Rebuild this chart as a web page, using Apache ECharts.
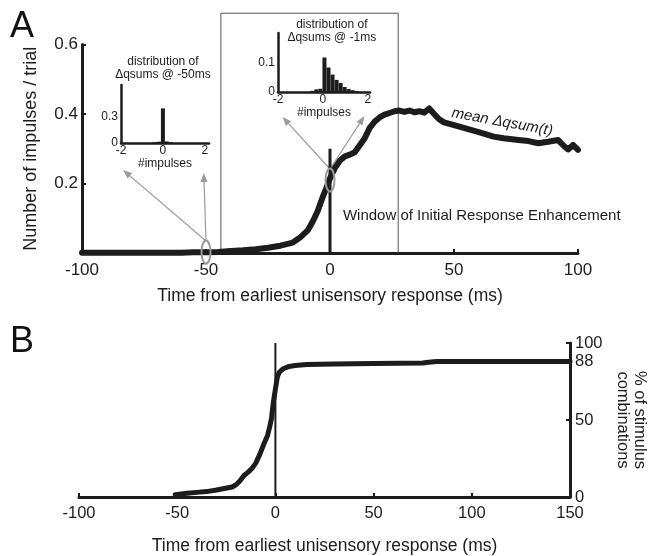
<!DOCTYPE html>
<html>
<head>
<meta charset="utf-8">
<script src="https://cdn.jsdelivr.net/npm/echarts@6/dist/echarts.min.js"></script>
<style>
  html, body { margin: 0; background: #fff; }
  #chart { width: 656px; height: 556px; }
</style>
</head>
<body>
<div id="chart"></div>
<script>
// panel A: mean delta qsum over time
const meanTimes = [-100, -90, -80, -70, -60, -55, -50, -45, -40, -35, -30, -25, -20, -15, -12, -9, -7, -5, -3, -1, 0, 2, 4, 6, 8, 10, 12, 14, 16, 18, 20, 22, 24, 26, 28, 30, 32, 34, 36, 38, 40, 42, 44, 46, 50, 55, 60, 66, 70, 76, 80, 84, 88, 92, 94, 96, 98, 100];
const meanValues = [0.001, 0.001, 0.001, 0.001, 0.001, 0.002, 0.002, 0.003, 0.006, 0.008, 0.011, 0.015, 0.021, 0.03, 0.045, 0.065, 0.09, 0.12, 0.16, 0.195, 0.215, 0.245, 0.266, 0.278, 0.283, 0.29, 0.31, 0.33, 0.36, 0.378, 0.39, 0.398, 0.403, 0.408, 0.41, 0.406, 0.41, 0.405, 0.408, 0.404, 0.416, 0.4, 0.385, 0.376, 0.368, 0.358, 0.348, 0.335, 0.33, 0.325, 0.322, 0.316, 0.32, 0.325, 0.31, 0.298, 0.311, 0.297];

// panel B: cumulative % of stimulus combinations
const cdfTimes = [-51, -45, -40, -35, -30, -26, -22, -20, -18, -16, -14, -12, -10, -8, -6, -4, -3, -2, -1, 0, 1, 2, 4, 7, 10, 16, 30, 50, 75, 78, 82, 150];
const cdfValues = [1.5, 2.5, 3, 3.5, 4.5, 5.5, 6.5, 8, 10.5, 14, 16, 18.5, 22, 27.5, 34, 40, 45, 51, 62, 70, 78, 81, 83.3, 84.8, 85.4, 86, 86.3, 86.7, 87, 87.5, 88, 88];

// inset histograms
const earlyBins = [-0.38, -0.19, 0, 0.19, 0.38];
const earlyCounts = [0.008, 0.015, 0.4, 0.018, 0.008];
const lateBins = [-0.47, -0.29, -0.11, 0.07, 0.25, 0.43, 0.61, 0.79, 0.97, 1.15, 1.33, 1.51];
const lateCounts = [0.004, 0.009, 0.011, 0.117, 0.083, 0.059, 0.041, 0.031, 0.017, 0.01, 0.006, 0.003];

// tick labels
const ticksA = [0.2, 0.4, 0.6];
const ticksEarlyY = [0, 0.3];
const ticksLateY = [0, 0.1];
const ticksInsetX = [-2, 0, 2];
const ticksB = [0, 50, 88, 100];
const ticksBMarks = [0, 50, 100];

// window of initial response enhancement
const windowStart = -44;
const windowEnd = 27.5;
const windowTop = 0.69;

const FONT = "'Liberation Sans', Arial, sans-serif";
const INK = '#1c1c1c';
const GREY = '#9a9a9a';

const zip = (xs, ys) => xs.map((x, i) => [x, ys[i]]);

const axisBase = (lw, fs) => ({
  axisLine: {show: true, onZero: false, lineStyle: {color: INK, width: lw}},
  axisTick: {show: true, inside: true, length: 4, lineStyle: {color: INK, width: 2}},
  splitLine: {show: false},
  axisLabel: {color: INK, fontFamily: FONT, fontSize: fs}
});

const chart = echarts.init(document.getElementById('chart'));

chart.setOption({
  animation: false,
  backgroundColor: '#fff',
  grid: [
    {left: 82, top: 44.5, width: 496, height: 208.5},
    {left: 121, top: 85, width: 88, height: 58},
    {left: 278, top: 33, width: 92, height: 59},
    {left: 79, top: 343, width: 498, height: 158}
  ],
  xAxis: [
    Object.assign(axisBase(3, 17), {
      gridIndex: 0, type: 'value', min: -100, max: 100, interval: 50,
      axisLabel: {color: INK, fontFamily: FONT, fontSize: 17, margin: 9},
      name: 'Time from earliest unisensory response (ms)', nameLocation: 'middle', nameGap: 34,
      nameTextStyle: {color: INK, fontFamily: FONT, fontSize: 17.5}
    }),
    Object.assign(axisBase(2.5, 12), {
      gridIndex: 1, type: 'value', min: -2, max: 2.2, interval: 2,
      axisTick: {show: false},
      axisLabel: {color: INK, fontFamily: FONT, fontSize: 12, margin: 2, customValues: ticksInsetX},
      name: '#impulses', nameLocation: 'middle', nameGap: 14,
      nameTextStyle: {color: INK, fontFamily: FONT, fontSize: 12}
    }),
    Object.assign(axisBase(2.5, 12), {
      gridIndex: 2, type: 'value', min: -2, max: 2.1, interval: 2,
      axisTick: {show: false},
      axisLabel: {color: INK, fontFamily: FONT, fontSize: 12, margin: 2, customValues: ticksInsetX},
      name: '#impulses', nameLocation: 'middle', nameGap: 14,
      nameTextStyle: {color: INK, fontFamily: FONT, fontSize: 12}
    }),
    Object.assign(axisBase(3, 16.5), {
      gridIndex: 3, type: 'value', min: -100, max: 150, interval: 50,
      axisLabel: {color: INK, fontFamily: FONT, fontSize: 16.5, margin: 8},
      name: 'Time from earliest unisensory response (ms)', nameLocation: 'middle', nameGap: 40,
      nameTextStyle: {color: INK, fontFamily: FONT, fontSize: 17.5}
    })
  ],
  yAxis: [
    Object.assign(axisBase(3, 17), {
      gridIndex: 0, type: 'value', min: 0, max: 0.6, interval: 0.2,
      axisLabel: {color: INK, fontFamily: FONT, fontSize: 17, margin: 4, customValues: ticksA},
      axisTick: {show: true, inside: true, length: 4, lineStyle: {color: INK, width: 2}, customValues: ticksA},
      name: 'Number of impulses / trial', nameLocation: 'middle', nameGap: 42,
      nameTextStyle: {color: INK, fontFamily: FONT, fontSize: 18}
    }),
    Object.assign(axisBase(2.5, 12), {
      gridIndex: 1, type: 'value', min: 0, max: 0.67, interval: 0.3,
      axisTick: {show: false},
      axisLabel: {color: INK, fontFamily: FONT, fontSize: 12, margin: 3, customValues: ticksEarlyY}
    }),
    Object.assign(axisBase(2.5, 12), {
      gridIndex: 2, type: 'value', min: 0, max: 0.2, interval: 0.1,
      axisTick: {show: false},
      axisLabel: {color: INK, fontFamily: FONT, fontSize: 12, margin: 3, customValues: ticksLateY}
    }),
    Object.assign(axisBase(3, 16.5), {
      gridIndex: 3, type: 'value', min: 0, max: 100, position: 'right',
      axisLabel: {color: INK, fontFamily: FONT, fontSize: 16.5, margin: 5, customValues: ticksB},
      axisTick: {show: true, inside: true, length: 4, lineStyle: {color: INK, width: 2}, customValues: ticksBMarks},
      name: '% of stimulus\ncombinations', nameLocation: 'middle', nameGap: 44, nameRotate: -90,
      nameTextStyle: {color: INK, fontFamily: FONT, fontSize: 16.5, lineHeight: 17}
    })
  ],
  series: [
    {
      type: 'line', xAxisIndex: 0, yAxisIndex: 0, clip: false, silent: true, symbol: 'none',
      lineStyle: {color: '#555', width: 1},
      data: [[windowStart, 0], [windowStart, windowTop], [windowEnd, windowTop], [windowEnd, 0]]
    },
    {
      type: 'line', xAxisIndex: 0, yAxisIndex: 0, symbol: 'none',
      lineStyle: {color: INK, width: 3},
      data: [[0, 0], [0, 0.3]]
    },
    {
      type: 'line', xAxisIndex: 0, yAxisIndex: 0, symbol: 'none', z: 5,
      lineStyle: {color: INK, width: 6, join: 'round', cap: 'round'},
      data: zip(meanTimes, meanValues)
    },
    {
      type: 'bar', xAxisIndex: 1, yAxisIndex: 1, barWidth: 4,
      itemStyle: {color: INK},
      data: zip(earlyBins, earlyCounts)
    },
    {
      type: 'bar', xAxisIndex: 2, yAxisIndex: 2, barWidth: 4,
      itemStyle: {color: INK},
      data: zip(lateBins, lateCounts)
    },
    {
      type: 'line', xAxisIndex: 3, yAxisIndex: 3, symbol: 'none',
      lineStyle: {color: INK, width: 2},
      data: [[0, 0], [0, 100]]
    },
    {
      type: 'line', xAxisIndex: 3, yAxisIndex: 3, symbol: 'none', z: 5,
      lineStyle: {color: INK, width: 5, join: 'round', cap: 'round'},
      data: zip(cdfTimes, cdfValues)
    }
  ]
});

// annotations placed from data coordinates
const px = (grid, pt) => chart.convertToPixel({gridIndex: grid}, pt);

const arrow = (from, to) => {
  const dx = to[0] - from[0], dy = to[1] - from[1];
  const len = Math.sqrt(dx * dx + dy * dy);
  const ux = dx / len, uy = dy / len;
  const hl = 9, hw = 3.5;
  const bx = to[0] - ux * hl, by = to[1] - uy * hl;
  return [
    {type: 'line', shape: {x1: from[0], y1: from[1], x2: bx, y2: by}, style: {stroke: GREY, lineWidth: 1.2}},
    {type: 'polygon', shape: {points: [to, [bx - uy * hw, by + ux * hw], [bx + uy * hw, by - ux * hw]]}, style: {fill: GREY}}
  ];
};

const text = (x, y, str, size, extra) => ({
  type: 'text', x: x, y: y,
  style: Object.assign({text: str, fill: INK, fontFamily: FONT, fontSize: size, align: 'center', verticalAlign: 'middle'}, extra || {})
});

const e1 = px(0, [-50, 0.003]);
const e2 = px(0, [0, 0.21]);
const in1 = px(1, [0, 0]);
const in2 = px(2, [0, 0]);

let graphics = [
  text(22, 27, 'A', 36, {fill: '#111'}),
  text(22, 342, 'B', 36, {fill: '#111'}),
  {type: 'ellipse', shape: {cx: e1[0], cy: e1[1], rx: 4.5, ry: 11.5}, style: {fill: 'none', stroke: GREY, lineWidth: 2}, z: 10},
  {type: 'ellipse', shape: {cx: e2[0], cy: e2[1], rx: 4.5, ry: 11.5}, style: {fill: 'none', stroke: GREY, lineWidth: 2}, z: 10}
];
graphics = graphics
  .concat(arrow([e1[0], e1[1] - 11], [px(1, [-1.9, 0])[0], in1[1] + 27]))
  .concat(arrow([e1[0], e1[1] - 11], [px(1, [1.95, 0])[0], in1[1] + 30]))
  .concat(arrow([e2[0], e2[1] - 11], [px(2, [-1.8, 0])[0], in2[1] + 25]))
  .concat(arrow([e2[0], e2[1] - 11], [px(2, [1.85, 0])[0], in2[1] + 24]))
  .concat([
    text(in1[0], 62, 'distribution of', 12),
    text(in1[0], 75, 'Δqsums @ -50ms', 12),
    text(px(2, [0.4, 0])[0], 25, 'distribution of', 12),
    text(px(2, [0.4, 0])[0], 38, 'Δqsums @ -1ms', 12)
  ]);

const meanLabel = px(0, [69.4, 0.377]);
const meanText = text(meanLabel[0], meanLabel[1], 'mean Δqsum(t)', 15, {fontStyle: 'italic'});
meanText.rotation = -0.18;
graphics.push(meanText);
const winLabel = px(0, [5.2, 0.106]);
graphics.push(text(winLabel[0], winLabel[1], 'Window of Initial Response Enhancement', 15, {align: 'left'}));

chart.setOption({graphic: graphics});
</script>
</body>
</html>
